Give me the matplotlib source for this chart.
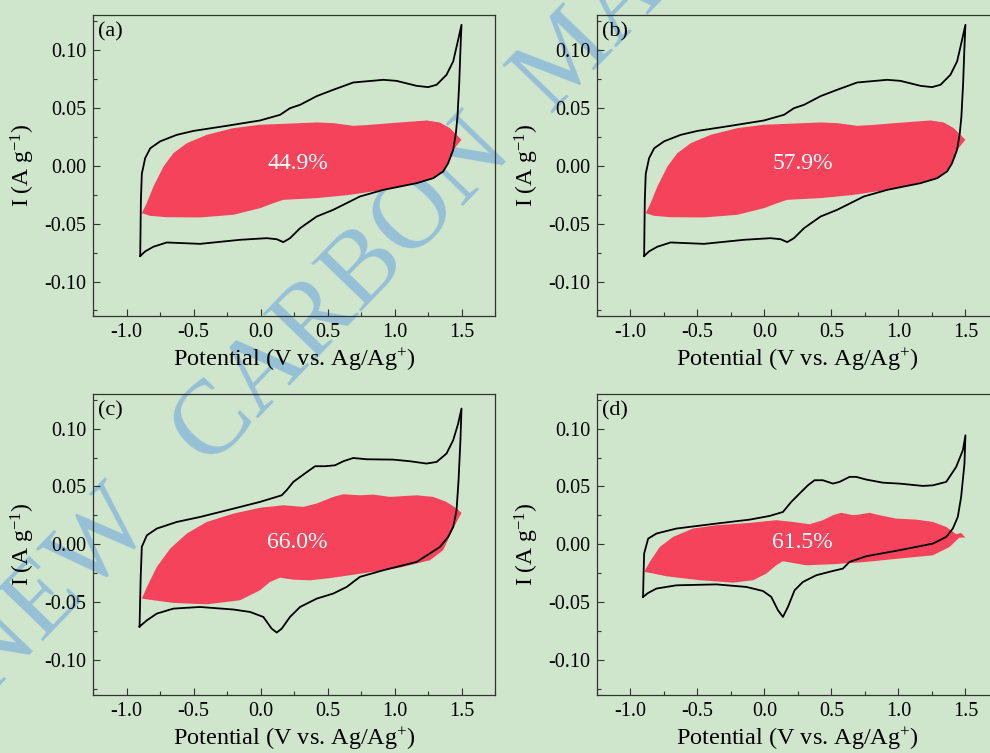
import matplotlib
matplotlib.use("Agg")
from matplotlib import pyplot as plt
from matplotlib.ticker import MultipleLocator

plt.rcParams['font.family'] = ['Liberation Serif', 'DejaVu Serif']
plt.rcParams['mathtext.default'] = 'regular'
plt.rcParams['axes.unicode_minus'] = False

# ---- data (potential in V, current in A/g) ----
# panel (a) CV loop: up the left edge, anodic branch, then cathodic branch back
a_cv_x = [-0.898, -0.893, -0.886, -0.861, -0.823, -0.749, -0.625, -0.50, -0.252, -0.004,
          0.146, 0.22, 0.295, 0.419, 0.543, 0.692, 0.916, 1.015, 1.165, 1.251,
          1.314, 1.388, 1.438, 1.475, 1.50,
          1.492, 1.483, 1.470, 1.458, 1.438, 1.40, 1.363, 1.289, 1.165, 0.916,
          0.742, 0.543, 0.419, 0.295, 0.22, 0.17, 0.121, 0.046, -0.153, -0.451,
          -0.70, -0.80, -0.861, -0.898]
a_cv_y = [-0.078, -0.030, -0.007, 0.0065, 0.015, 0.021, 0.0266, 0.030, 0.0344, 0.039,
          0.0439, 0.0496, 0.0525, 0.060, 0.0655, 0.0718, 0.0741, 0.0732, 0.0689, 0.0678,
          0.0698, 0.0784, 0.090, 0.1086, 0.1216,
          0.100, 0.0712, 0.0424, 0.028, 0.0137, 0.002, -0.005, -0.0108, -0.0151, -0.0209,
          -0.0266, -0.0381, -0.0439, -0.054, -0.0626, -0.066, -0.0635, -0.0626, -0.064, -0.0675,
          -0.0663, -0.070, -0.074, -0.078]
# capacitive (red) region outline: upper edge left->right, lower edge right->left
a_fill_x = [-0.886, -0.848, -0.799, -0.724, -0.65, -0.55, -0.401, -0.202, -0.004, 0.170,
            0.419, 0.543, 0.692, 0.792, 1.04, 1.239, 1.338, 1.413, 1.475, 1.50,
            1.438, 1.388, 1.314, 1.165, 0.916, 0.667, 0.419, 0.170, 0.096, -0.004,
            -0.202, -0.451, -0.70, -0.824]
a_fill_y = [-0.041, -0.032, -0.018, -0.0007, 0.0108, 0.0194, 0.0266, 0.0324, 0.0353, 0.0361,
            0.0373, 0.0367, 0.0344, 0.035, 0.0373, 0.039, 0.0373, 0.0324, 0.0252, 0.0223,
            0.0137, -0.0007, -0.0094, -0.0145, -0.0209, -0.0252, -0.028, -0.0295, -0.0324, -0.0367,
            -0.0424, -0.0447, -0.0445, -0.0433]

# panel (b) shows the same curves as (a)
b_cv_x, b_cv_y = a_cv_x, a_cv_y
b_fill_x, b_fill_y = a_fill_x, a_fill_y

c_cv_x = [-0.903, -0.895, -0.886, -0.848, -0.774, -0.625, -0.451, -0.202, -0.004, 0.158,
          0.195, 0.245, 0.32, 0.407, 0.481, 0.556, 0.618, 0.692, 0.792, 0.99,
          1.115, 1.239, 1.314, 1.388, 1.438, 1.475, 1.50,
          1.492, 1.478, 1.463, 1.438, 1.40, 1.339, 1.165, 0.916, 0.742, 0.643,
          0.543, 0.419, 0.295, 0.22, 0.158, 0.121, 0.083, 0.021, -0.078, -0.202,
          -0.451, -0.65, -0.774, -0.848, -0.903]
c_cv_y = [-0.0709, -0.030, -0.002, 0.0079, 0.0137, 0.0194, 0.0237, 0.0309, 0.0367, 0.0424,
          0.0468, 0.054, 0.0603, 0.0675, 0.0675, 0.0683, 0.0718, 0.0746, 0.0735, 0.0732,
          0.0718, 0.0698, 0.0712, 0.0784, 0.090, 0.1043, 0.1173,
          0.090, 0.0554, 0.0295, 0.0151, 0.0065, -0.0022, -0.0151, -0.0223, -0.028, -0.0367,
          -0.0424, -0.0468, -0.054, -0.0626, -0.0727, -0.0761, -0.0727, -0.0626, -0.0583, -0.0562,
          -0.054, -0.0554, -0.0597, -0.0655, -0.0709]
c_fill_x = [-0.886, -0.848, -0.774, -0.674, -0.55, -0.401, -0.202, -0.004, 0.170, 0.32,
            0.419, 0.543, 0.618, 0.742, 0.841, 0.966, 1.165, 1.289, 1.388, 1.463, 1.50,
            1.438, 1.363, 1.264, 1.04, 0.792, 0.543, 0.37, 0.245, 0.146, 0.071,
            -0.004, -0.153, -0.401, -0.65, -0.799]
c_fill_y = [-0.0468, -0.0367, -0.0194, -0.0036, 0.0094, 0.0194, 0.0266, 0.0316, 0.0338, 0.0324,
            0.0353, 0.041, 0.0433, 0.0424, 0.043, 0.041, 0.0424, 0.041, 0.0367, 0.031, 0.0273,
            0.0137, -0.005, -0.0137, -0.020, -0.0245, -0.0287, -0.031, -0.0304, -0.0287, -0.0324,
            -0.0396, -0.0482, -0.0517, -0.0505, -0.0482]

d_cv_x = [-0.906, -0.902, -0.898, -0.868, -0.806, -0.657, -0.359, -0.11, 0.039, 0.138,
          0.20, 0.262, 0.325, 0.374, 0.436, 0.511, 0.561, 0.635, 0.685, 0.759,
          0.884, 1.008, 1.182, 1.257, 1.357, 1.431, 1.481, 1.50,
          1.493, 1.468, 1.443, 1.406, 1.357, 1.257, 1.008, 0.759, 0.635, 0.585,
          0.511, 0.387, 0.287, 0.225, 0.175, 0.138, 0.101, 0.051, -0.011, -0.135,
          -0.359, -0.657, -0.806, -0.868, -0.906]
d_cv_y = [-0.0453, -0.025, -0.0079, 0.005, 0.0094, 0.0137, 0.018, 0.0214, 0.0246, 0.028,
          0.0367, 0.0439, 0.0511, 0.0554, 0.0554, 0.0525, 0.054, 0.0583, 0.0583, 0.056,
          0.0533, 0.0525, 0.0505, 0.051, 0.054, 0.0669, 0.0813, 0.0942,
          0.0698, 0.041, 0.0237, 0.0137, 0.0065, 0.0007, -0.005, -0.0102, -0.0151, -0.0209,
          -0.0229, -0.0266, -0.0324, -0.0396, -0.054, -0.0626, -0.0568, -0.0453, -0.0402, -0.0367,
          -0.0345, -0.0353, -0.0381, -0.0419, -0.0453]
d_fill_x = [-0.898, -0.856, -0.781, -0.682, -0.533, -0.359, -0.11, 0.088, 0.213, 0.337,
            0.436, 0.511, 0.573, 0.66, 0.71, 0.784, 0.859, 0.983, 1.132, 1.257,
            1.357, 1.431, 1.468, 1.50,
            1.455, 1.382, 1.257, 1.008, 0.759, 0.511, 0.312, 0.213, 0.138, 0.088,
            0.014, -0.085, -0.234, -0.483, -0.732, -0.856]
d_fill_y = [-0.0237, -0.0151, -0.0022, 0.0065, 0.0137, 0.0165, 0.0186, 0.0209, 0.0194, 0.0174,
            0.0209, 0.0252, 0.0273, 0.0252, 0.0258, 0.0273, 0.0252, 0.0223, 0.0214, 0.0194,
            0.0151, 0.0088, 0.0099, 0.0059,
            0.0059, -0.0022, -0.0094, -0.0122, -0.0151, -0.0171, -0.018, -0.016, -0.0145, -0.018,
            -0.0252, -0.0309, -0.033, -0.0309, -0.0275, -0.0245]

panel_labels = ["(a)", "(b)", "(c)", "(d)"]
percents = ["44.9%", "57.9%", "66.0%", "61.5%"]
percent_pos = [(0.28, 0.002), (0.287, 0.002), (0.275, 0.002), (0.282, 0.002)]

bg = '#cfe6cc'
red = '#f4435a'
wm_blue = '#96c0d7'

fig = plt.figure(figsize=(9.9, 7.53), dpi=100, facecolor=bg)

# watermark sits under the plots (axes have transparent faces)
fig.text(-0.012, 0.073, "NEW   CARBON  MATERIALS", fontsize=76, rotation=46,
         rotation_mode='anchor', ha='left', va='baseline',
         color=wm_blue, zorder=-1)

# axes boxes in figure fractions
boxes = [(0.094, 0.580, 0.406, 0.400),
         (0.603, 0.580, 0.406, 0.400),
         (0.094, 0.077, 0.406, 0.400),
         (0.603, 0.077, 0.406, 0.400)]

cv_data = [(a_cv_x, a_cv_y), (b_cv_x, b_cv_y), (c_cv_x, c_cv_y), (d_cv_x, d_cv_y)]
fill_data = [(a_fill_x, a_fill_y), (b_fill_x, b_fill_y), (c_fill_x, c_fill_y), (d_fill_x, d_fill_y)]

for i in range(4):
    ax = fig.add_axes(boxes[i])
    ax.set_facecolor('none')
    fx, fy = fill_data[i]
    ax.fill(fx, fy, color=red, lw=0, zorder=2)
    cx, cy = cv_data[i]
    ax.plot(cx, cy, color='black', lw=1.3, zorder=3)

    ax.set_xlim(-1.25, 1.75)
    ax.set_ylim(-0.13, 0.13)
    ax.xaxis.set_major_locator(MultipleLocator(0.5))
    ax.xaxis.set_minor_locator(MultipleLocator(0.25))
    ax.yaxis.set_major_locator(MultipleLocator(0.05))
    ax.yaxis.set_minor_locator(MultipleLocator(0.025))
    ax.xaxis.set_major_formatter(plt.FormatStrFormatter('%.1f'))
    ax.yaxis.set_major_formatter(plt.FormatStrFormatter('%.2f'))
    ax.tick_params(which='both', direction='in', top=False, right=False,
                   labelsize=14.5, width=0.8, color='#333333')
    ax.tick_params(which='major', length=5, pad=5)
    ax.tick_params(which='minor', length=3)
    for s in ax.spines.values():
        s.set_linewidth(0.9)
        s.set_color('#333333')

    ax.set_xlabel("Potential (V vs. Ag/Ag$^{+}$)", fontsize=17.5, labelpad=3)
    ax.set_ylabel("I (A g$^{-1}$)", fontsize=17, labelpad=5)
    ax.text(0.012, 0.975, panel_labels[i], transform=ax.transAxes,
            ha='left', va='top', fontsize=16)
    px, py = percent_pos[i]
    ax.text(px, py, percents[i], color='white', ha='center', va='center',
            fontsize=17, zorder=4)

fig.savefig("out.png", dpi=100, facecolor=bg)
